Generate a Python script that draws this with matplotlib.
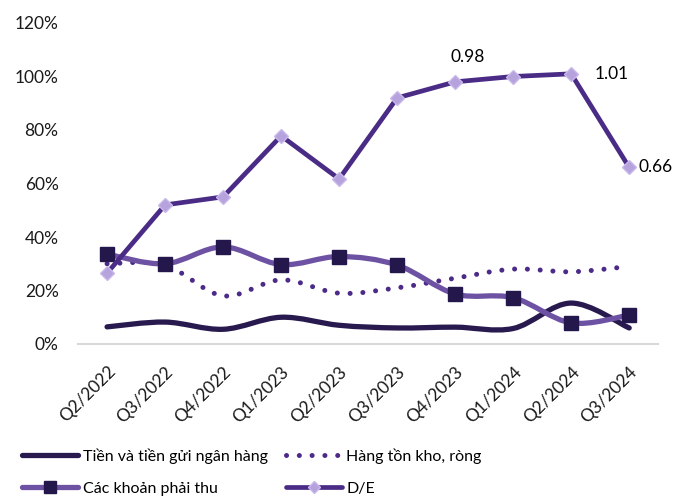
import numpy as np
import matplotlib
matplotlib.use('Agg')
from matplotlib import pyplot as plt
from matplotlib.path import Path
from matplotlib.patches import PathPatch
from matplotlib.lines import Line2D

plt.rcParams['font.family'] = ['Lato', 'Noto Sans', 'DejaVu Sans']

quarters = ['Q2/2022', 'Q3/2022', 'Q4/2022', 'Q1/2023', 'Q2/2023',
            'Q3/2023', 'Q4/2023', 'Q1/2024', 'Q2/2024', 'Q3/2024']
cash = [0.064, 0.082, 0.055, 0.100, 0.070, 0.060, 0.063, 0.058, 0.153, 0.060]
inventory = [0.300, 0.295, 0.180, 0.240, 0.190, 0.210, 0.246, 0.280, 0.270, 0.290]
receivables = [0.336, 0.300, 0.363, 0.297, 0.327, 0.295, 0.187, 0.173, 0.079, 0.108]
de_ratio = [0.265, 0.520, 0.550, 0.778, 0.617, 0.920, 0.980, 1.000, 1.010, 0.660]
labels = ['Tiền và tiền gửi ngân hàng', 'Hàng tồn kho, ròng',
          'Các khoản phải thu', 'D/E']

C_CASH = '#281a4e'
C_INV = '#4b2a88'
C_REC = '#6d52a3'
C_REC_M = '#24174b'
C_DE = '#4a2c86'
C_DE_M = '#b6a2dc'


def smooth_path(xs, ys, k=1.0 / 6):
    # Excel style smoothed line: bezier segments through every point
    pts = np.column_stack([xs, ys]).astype(float)
    n = len(pts)
    verts = [pts[0]]
    codes = [Path.MOVETO]
    for i in range(n - 1):
        p0 = pts[max(i - 1, 0)]
        p1 = pts[i]
        p2 = pts[i + 1]
        p3 = pts[min(i + 2, n - 1)]
        c1 = p1 + (p2 - p0) * k
        c2 = p2 - (p3 - p1) * k
        verts += [c1, c2, p2]
        codes += [Path.CURVE4] * 3
    return Path(verts, codes)


fig = plt.figure(figsize=(6.73, 5.0), dpi=100)
ax = fig.add_axes([0.116, 0.312, 0.862, 0.642])
x = np.arange(len(quarters))

ax.add_patch(PathPatch(smooth_path(x, cash), fill=False, edgecolor=C_CASH,
                       lw=3.8, capstyle='round', zorder=3))
ax.add_patch(PathPatch(smooth_path(x, inventory), fill=False, edgecolor=C_INV,
                       lw=3.6, linestyle=(0, (0.01, 2.55)), capstyle='round', zorder=3))
ax.add_patch(PathPatch(smooth_path(x, receivables), fill=False, edgecolor=C_REC,
                       lw=3.8, capstyle='round', zorder=4))
ax.plot(x, receivables, ls='none', marker='s', ms=10, color=C_REC_M, zorder=5)
ax.plot(x, de_ratio, color=C_DE, lw=3.4, marker='D', ms=7.5, mfc=C_DE_M,
        mec='#c9b8ea', mew=1.0, zorder=6)

ax.annotate('0.98', (6, de_ratio[6]), xytext=(9, 18), textcoords='offset points',
            ha='center', va='center', fontsize=12.5)
ax.annotate('1.01', (8, de_ratio[8]), xytext=(17, 0), textcoords='offset points',
            ha='left', va='center', fontsize=12.5)
ax.annotate('0.66', (9, de_ratio[9]), xytext=(7, 0), textcoords='offset points',
            ha='left', va='center', fontsize=12.5, annotation_clip=False)

ax.set_xlim(-0.5, len(quarters) - 0.5)
ax.set_ylim(0, 1.2)
ax.set_yticks(np.arange(0, 1.21, 0.2))
ax.set_yticklabels(['{:.0f}%'.format(v * 100) for v in np.arange(0, 1.21, 0.2)],
                   fontsize=12.5)
ax.set_xticks(x)
ax.set_xticklabels(quarters, rotation=45, ha='right', va='top',
                   rotation_mode='anchor', fontsize=12.5)
ax.tick_params(axis='both', length=0, colors='#1a1a1a')
ax.tick_params(axis='x', pad=14)
ax.tick_params(axis='y', pad=14)
for side in ['top', 'right', 'left']:
    ax.spines[side].set_visible(False)
ax.spines['bottom'].set_color('#d9d9d9')
ax.spines['bottom'].set_linewidth(1.5)

h_cash = Line2D([], [], color=C_CASH, lw=3.8, solid_capstyle='round')
h_inv = Line2D([], [], color=C_INV, lw=3.6, ls=(0, (0.01, 2.55)), dash_capstyle='round')
h_rec = Line2D([], [], color=C_REC, lw=3.8, marker='s', ms=8, mfc=C_REC_M, mec=C_REC_M,
               solid_capstyle='round')
h_de = Line2D([], [], color=C_DE, lw=3.4, marker='D', ms=6, mfc=C_DE_M, mec='#c9b8ea',
              solid_capstyle='round')
# legend fills column-wise, so interleave to get row order
fig.legend([h_cash, h_rec, h_inv, h_de], [labels[0], labels[2], labels[1], labels[3]],
           loc='lower left', bbox_to_anchor=(0.012, -0.02), ncol=2,
           frameon=False, fontsize=11.5, handlelength=3.5, handletextpad=0.3,
           columnspacing=1.1, labelspacing=1.1)

fig.savefig('out.png', dpi=100)
